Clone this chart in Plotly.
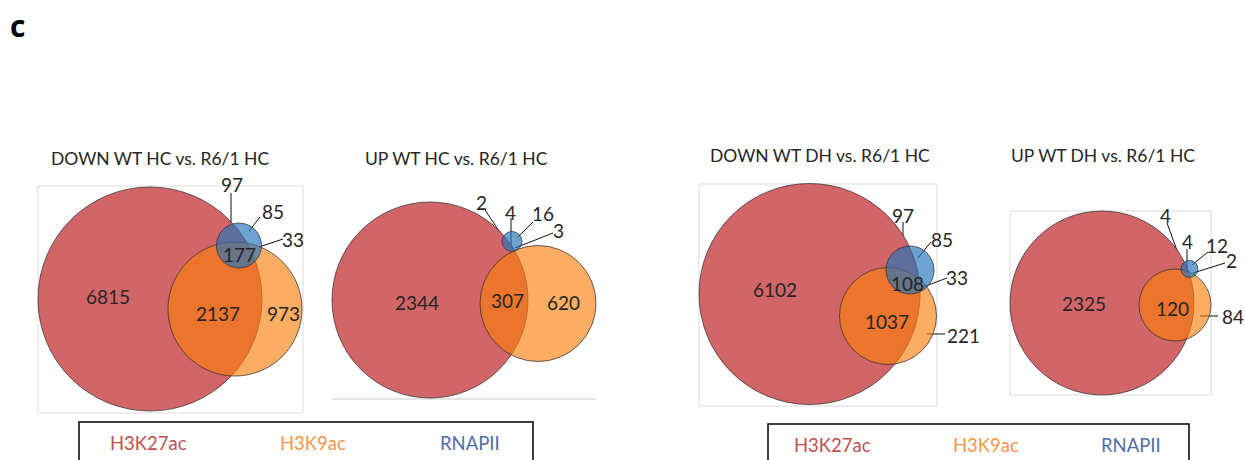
import plotly.graph_objects as go

# ---- data -------------------------------------------------------------
panel_titles = ["DOWN WT HC vs. R6/1 HC", "UP WT HC vs. R6/1 HC",
                "DOWN WT DH vs. R6/1 HC", "UP WT DH vs. R6/1 HC"]
set_names = ["H3K27ac", "H3K9ac", "RNAPII"]
# region order: K27 only, K27&K9, K9 only, K27&Pol, all three, Pol only, K9&Pol
down_hc = [6815, 2137, 973, 97, 177, 85, 33]
up_hc = [2344, 307, 620, 2, 4, 16, 3]
down_dh = [6102, 1037, 221, 97, 108, 85, 33]
up_dh = [2325, 120, 84, 4, 4, 12, 2]
panel_counts = [down_hc, up_hc, down_dh, up_dh]

# ---- geometry (page pixels) ---------------------------------------------
# circles: (cx, cy, r) for H3K27ac, H3K9ac, RNAPII
geo = [
    dict(box=(38, 186, 303, 413), title=(160, 158),
         circles=[(150, 299, 112), (235, 309, 67), (239, 245.5, 22.5)],
         labels=[(108, 296), (218, 313), (283, 313), (232, 184), (239, 254), (273, 211), (293, 239)],
         leaders=[((231, 193), (231, 229)), ((260, 217), (249, 231)), ((283, 239), (259, 247))]),
    dict(box=None, bottom=(332, 596, 399), title=(456, 158),
         circles=[(430, 300, 98), (538, 303.5, 58), (512, 241.5, 10)],
         labels=[(417, 302), (507, 300), (563, 302), (481, 202), (510, 212), (543, 213), (558, 230)],
         leaders=[((485, 210), (507, 243)), ((511, 218), (511, 247)),
                  ((533, 222), (518, 237)), ((553, 233), (515, 248))]),
    dict(box=(699, 184, 937, 406), title=(820, 155),
         circles=[(809.5, 294, 110.5), (888, 316, 48.5), (910, 270, 24)],
         labels=[(775, 289), (887, 321), (963, 335), (903, 215), (907, 283), (942, 239), (957, 277)],
         leaders=[((927, 334), (945, 334)), ((903, 222), (903, 255)),
                  ((931, 242), (918, 258)), ((947, 278), (923, 287))]),
    dict(box=(1010, 211, 1211, 395), title=(1103, 155),
         circles=[(1102, 303, 92), (1175, 305, 36), (1189.5, 269, 8.5)],
         labels=[(1084, 303), (1172, 308), (1233, 316), (1165, 215), (1187, 241), (1217, 245), (1231, 260)],
         leaders=[((1200, 316), (1218, 316)), ((1167, 223), (1183, 267)), ((1187, 249), (1187, 277)),
                  ((1208, 252), (1192, 265)), ((1225, 263), (1193, 273))]),
]
legend_boxes = [dict(box=(79, 422, 533, 475), y=443, xs=[148, 313, 470]),
                dict(box=(768, 424, 1189, 475), y=445, xs=[832, 986, 1131])]

circle_fill = ["rgb(210,101,104)", "rgba(249,127,11,0.64)", "rgba(35,115,185,0.66)"]
legend_col = ["#C0504D", "#F79646", "#4F6EA8"]
FONT = "Lato, 'Open Sans', sans-serif"
TXT = "#262626"

fig = go.Figure()
shapes, annotations = [], []

for g, title, counts in zip(geo, panel_titles, panel_counts):
    if g["box"]:
        x0, y0, x1, y1 = g["box"]
        shapes.append(dict(type="rect", x0=x0, y0=y0, x1=x1, y1=y1,
                           line=dict(color="#DCDCDC", width=1), layer="below"))
    else:
        x0, x1, yb = g["bottom"]
        shapes.append(dict(type="line", x0=x0, x1=x1, y0=yb, y1=yb,
                           line=dict(color="#DCDCDC", width=1.5), layer="below"))
    for (cx, cy, r), fill in zip(g["circles"], circle_fill):
        shapes.append(dict(type="circle", x0=cx - r, x1=cx + r, y0=cy - r, y1=cy + r,
                           fillcolor=fill, line=dict(color="rgba(50,50,50,0.75)", width=1)))
    tx, ty = g["title"]
    annotations.append(dict(x=tx, y=ty, text=title, showarrow=False,
                            font=dict(family=FONT, size=17.5, color=TXT)))
    for (lx, ly), val in zip(g["labels"], counts):
        annotations.append(dict(x=lx, y=ly, text=str(val), showarrow=False,
                                font=dict(family=FONT, size=19, color=TXT)))
    for (a, b) in g["leaders"]:
        fig.add_trace(go.Scatter(x=[a[0], b[0]], y=[a[1], b[1]], mode="lines",
                                 line=dict(color="#111111", width=1),
                                 hoverinfo="skip", showlegend=False))

for lb in legend_boxes:
    x0, y0, x1, y1 = lb["box"]
    shapes.append(dict(type="rect", x0=x0, y0=y0, x1=x1, y1=y1,
                       line=dict(color="black", width=1.5)))
    for x, name, col in zip(lb["xs"], set_names, legend_col):
        annotations.append(dict(x=x, y=lb["y"], text=name, showarrow=False,
                                font=dict(family=FONT, size=18.5, color=col)))

annotations.append(dict(x=8, y=25, xanchor="left", text="<b>c</b>", showarrow=False,
                        font=dict(family="'Open Sans', sans-serif", size=30, color="black")))

fig.update_layout(
    width=1245, height=460,
    margin=dict(l=0, r=0, t=0, b=0),
    paper_bgcolor="white", plot_bgcolor="white",
    xaxis=dict(range=[0, 1245], visible=False, fixedrange=True),
    yaxis=dict(range=[460, 0], visible=False, fixedrange=True),
    shapes=shapes, annotations=annotations,
    showlegend=False,
)

# drop the default page margin so page pixels match the axis coordinates
fig.write_html("out.html", config={"displayModeBar": False},
               post_script="document.body.style.margin='0';document.body.style.overflow='hidden';")
